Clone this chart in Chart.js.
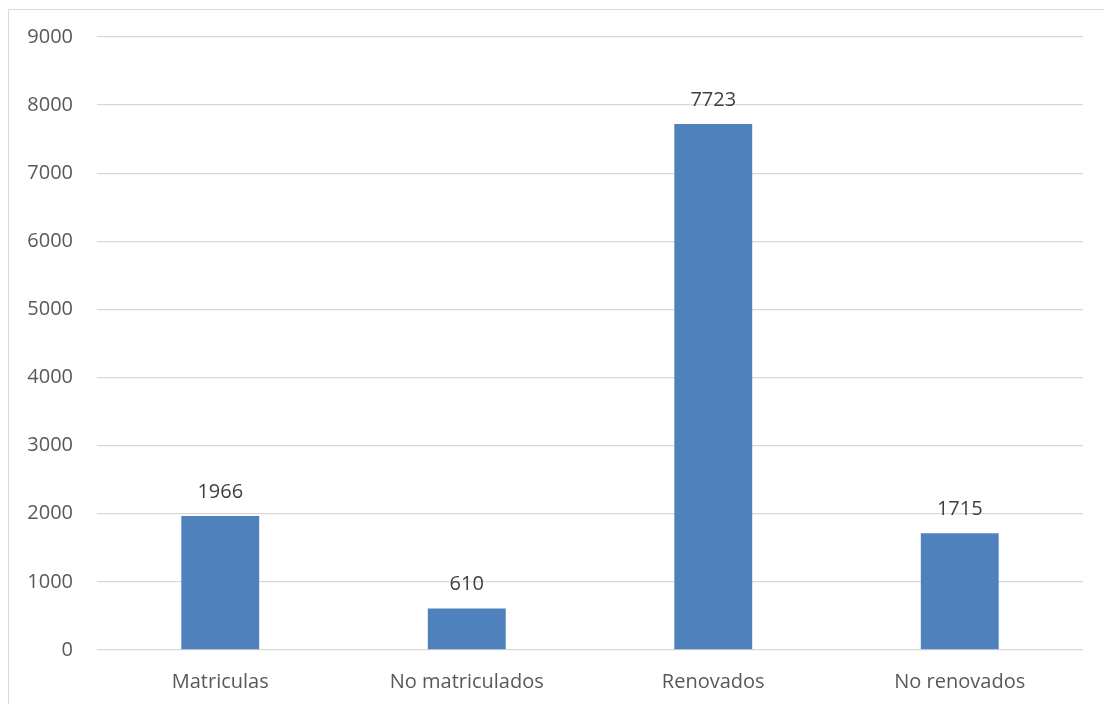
<!DOCTYPE html>
<html>
<head>
<meta charset="utf-8">
<script src="https://cdn.jsdelivr.net/npm/chart.js@4"></script>
<style>
  html, body { margin: 0; padding: 0; background: #fff; }
  #wrap { position: relative; width: 1104px; height: 704px; overflow: hidden; }
  #frame { position: absolute; left: 8px; top: 9px; width: 1200px; height: 800px; border: 1px solid #d9d9d9; box-sizing: border-box; }
  canvas { position: absolute; left: 0; top: 0; }
</style>
</head>
<body>
<div id="wrap">
  <div id="frame"></div>
  <canvas id="c" width="1104" height="704"></canvas>
</div>
<script>
// category labels and counts
const categories = ['Matriculas', 'No matriculados', 'Renovados', 'No renovados'];
const counts = [1966, 610, 7723, 1715];
const yTicks = [0, 1000, 2000, 3000, 4000, 5000, 6000, 7000, 8000, 9000];

const BAR_COLOR = '#4f81bd';
const TEXT_COLOR = '#595959';
const GRID_COLOR = '#d9d9d9';
const FONT = { family: 'Open Sans, sans-serif', size: 20 };

// draws value labels just above each bar
const valueLabels = {
  id: 'valueLabels',
  afterDatasetsDraw(chart) {
    const ctx = chart.ctx;
    const meta = chart.getDatasetMeta(0);
    ctx.save();
    ctx.fillStyle = '#404040';
    ctx.font = `${FONT.size}px ${FONT.family}`;
    ctx.textAlign = 'center';
    ctx.textBaseline = 'middle';
    meta.data.forEach((bar, i) => {
      ctx.fillText(String(counts[i]), bar.x, bar.y - 24);
    });
    ctx.restore();
  },
};

new Chart(document.getElementById('c'), {
  type: 'bar',
  data: {
    labels: categories,
    datasets: [{
      data: counts,
      backgroundColor: BAR_COLOR,
      borderWidth: 0,
      categoryPercentage: 1,
      barPercentage: 0.316,
    }],
  },
  options: {
    responsive: false,
    animation: false,
    layout: { padding: { left: 0, right: 21, top: 37, bottom: 0 } },
    plugins: {
      legend: { display: false },
      tooltip: { enabled: false },
    },
    scales: {
      x: {
        grid: { display: false, drawTicks: false },
        border: { display: false },
        ticks: { color: TEXT_COLOR, font: FONT, padding: 20 },
        afterFit: (scale) => { scale.height = 54; },
      },
      y: {
        min: 0,
        max: 9000,
        afterBuildTicks: (scale) => { scale.ticks = yTicks.map((v) => ({ value: v })); },
        grid: { color: GRID_COLOR, lineWidth: 1.3, drawTicks: false },
        border: { display: false },
        ticks: {
          color: TEXT_COLOR,
          font: FONT,
          padding: 24,
          callback: (v) => String(v),
        },
        afterFit: (scale) => { scale.width = 97; },
      },
    },
  },
  plugins: [valueLabels],
});
</script>
</body>
</html>
